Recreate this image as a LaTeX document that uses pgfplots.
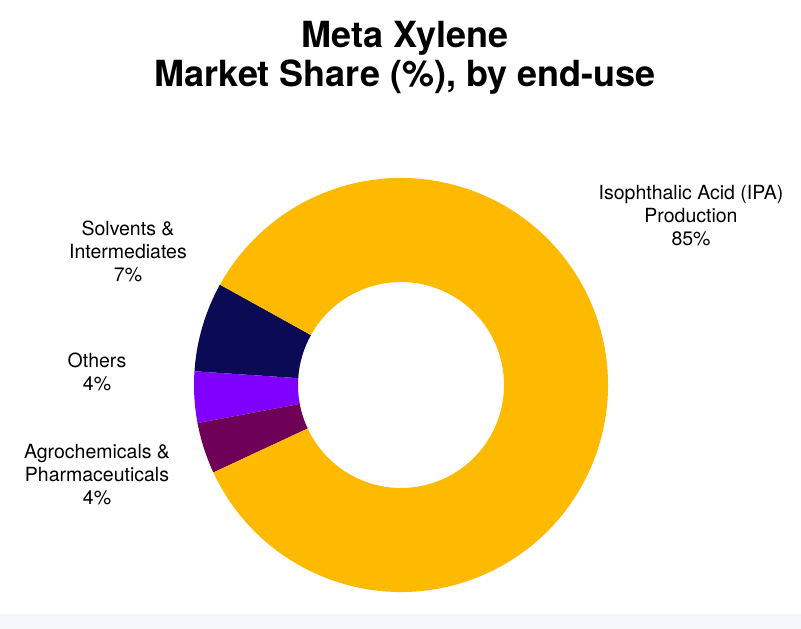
\documentclass[border=0pt]{standalone}
\usepackage{pgfplots}
\pgfplotsset{compat=1.18}
\usepackage{fontspec}
\setmainfont{TeX Gyre Heros}

\definecolor{ipa}{HTML}{FDBA00}
\definecolor{solv}{HTML}{0B0B55}
\definecolor{oth}{HTML}{8000FF}
\definecolor{agro}{HTML}{6E0058}
\definecolor{strip}{HTML}{F3F7FA}

% shares (%) going counter-clockwise from the start angle
\def\shSolv{7}
\def\shOth{4}
\def\shAgro{4}
\def\shIpa{85}

% #1 start angle, #2 share, #3 colour
\newcommand\slice[3]{%
  \fill[#3] (axis cs:401,244) ++({#1}:207bp)
    arc[start angle={#1}, delta angle={3.6*#2}, radius=207bp]
    -- ([shift={({#1+3.6*#2}:103bp)}]axis cs:401,244)
    arc[start angle={#1+3.6*#2}, delta angle={-3.6*#2}, radius=103bp]
    -- cycle;}

\begin{document}
\begin{tikzpicture}
\begin{axis}[
  scale only axis, width=801bp, height=629bp,
  xmin=0, xmax=801, ymin=0, ymax=629,
  hide axis, clip=false,
]
\fill[white] (axis cs:0,0) rectangle (axis cs:801,629);
\fill[strip] (axis cs:0,0) rectangle (axis cs:801,15);

\slice{151}{\shSolv}{solv}
\slice{151+3.6*7}{\shOth}{oth}
\slice{151+3.6*11}{\shAgro}{agro}
\slice{151+3.6*15}{\shIpa}{ipa}

\node[font=\fontsize{36bp}{39bp}\selectfont\bfseries, align=center]
  at (axis cs:405,571) {Meta Xylene\\Market Share (\%), by end-use};

\begin{scope}[every node/.style={font=\fontsize{19.5bp}{23bp}\selectfont, align=center}]
\node at (axis cs:691,413) {Isophthalic Acid (IPA)\\Production\\85\%};
\node at (axis cs:128,378) {Solvents \&\\Intermediates\\7\%};
\node at (axis cs:97,257) {Others\\4\%};
\node at (axis cs:97,154) {Agrochemicals \&\\Pharmaceuticals\\4\%};
\end{scope}
\end{axis}
\end{tikzpicture}
\end{document}
